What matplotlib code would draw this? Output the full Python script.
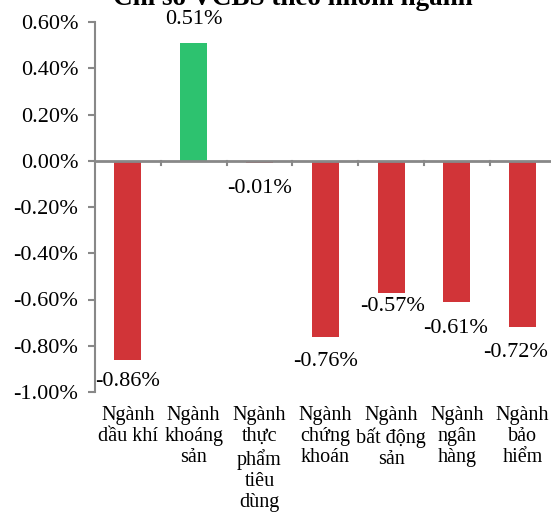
import numpy as np
import matplotlib.pyplot as plt
from matplotlib.ticker import FuncFormatter

categories = ["Ngành\ndầu khí", "Ngành\nkhoáng\nsản", "Ngành\nthực\nphẩm\ntiêu\ndùng",
              "Ngành\nchứng\nkhoán", "Ngành\nbất động\nsản", "Ngành\nngân\nhàng", "Ngành\nbảo\nhiểm"]
values = [-0.86, 0.51, -0.01, -0.76, -0.57, -0.61, -0.72]
labels = ["-0.86%", "0.51%", "-0.01%", "-0.76%", "-0.57%", "-0.61%", "-0.72%"]
yticks = [0.6, 0.4, 0.2, 0.0, -0.2, -0.4, -0.6, -0.8, -1.0]

# label placement (points), as in the original chart
label_dy = [-16, 17, -18, -18, -10, -19, -18]
label_dx = [0, 0, 0, 0, 1, -1, -5]

plt.rcParams['font.family'] = ['Liberation Serif', 'DejaVu Serif']

W, H = 551, 512
fig = plt.figure(figsize=(W / 100, H / 100), dpi=100)
ax = fig.add_axes([95 / W, 1 - 392 / H, 1 - 95 / W, (392 - 22) / H])

x = np.arange(len(values))
colors = ['#2DC26F' if v > 0 else '#D13438' for v in values]
ax.bar(x, values, width=0.41, color=colors, zorder=2)

ax.set_ylim(-1.0, 0.6)
ax.set_xlim(-0.5, (W - 93.5) / 66 - 0.5)
ax.set_yticks(yticks)
ax.yaxis.set_major_formatter(FuncFormatter(lambda v, p: f"{v:.2f}%"))
ax.tick_params(axis='y', labelsize=16, length=5, color='#888888', width=1.5, pad=7)

for s in ['top', 'right', 'bottom']:
    ax.spines[s].set_visible(False)
ax.spines['left'].set_color('#888888')
ax.spines['left'].set_linewidth(1.5)

ax.axhline(0, color='#888888', lw=2, zorder=3)
# category boundary ticks on the zero line
for b in np.arange(0.5, len(values) - 0.5, 1.0):
    ax.plot([b, b], [0, -0.018], color='#888888', lw=1.5, zorder=3)

ax.set_xticks([])
for i, c in enumerate(categories):
    ax.annotate(c, (i, -1.0), xytext=(0, -10), textcoords='offset points',
                ha='center', va='top', fontsize=14.5, linespacing=1.16,
                annotation_clip=False)

for i, (v, l) in enumerate(zip(values, labels)):
    ax.annotate(l, (i, v), xytext=(label_dx[i], label_dy[i]), textcoords='offset points',
                ha='center', va='center', fontsize=16, annotation_clip=False)

fig.text(0.532, 1.005, "Chỉ số VCBS theo nhóm ngành", ha='center', va='center',
         fontsize=19.5, fontweight='bold')

fig.savefig('out.png', dpi=100)
